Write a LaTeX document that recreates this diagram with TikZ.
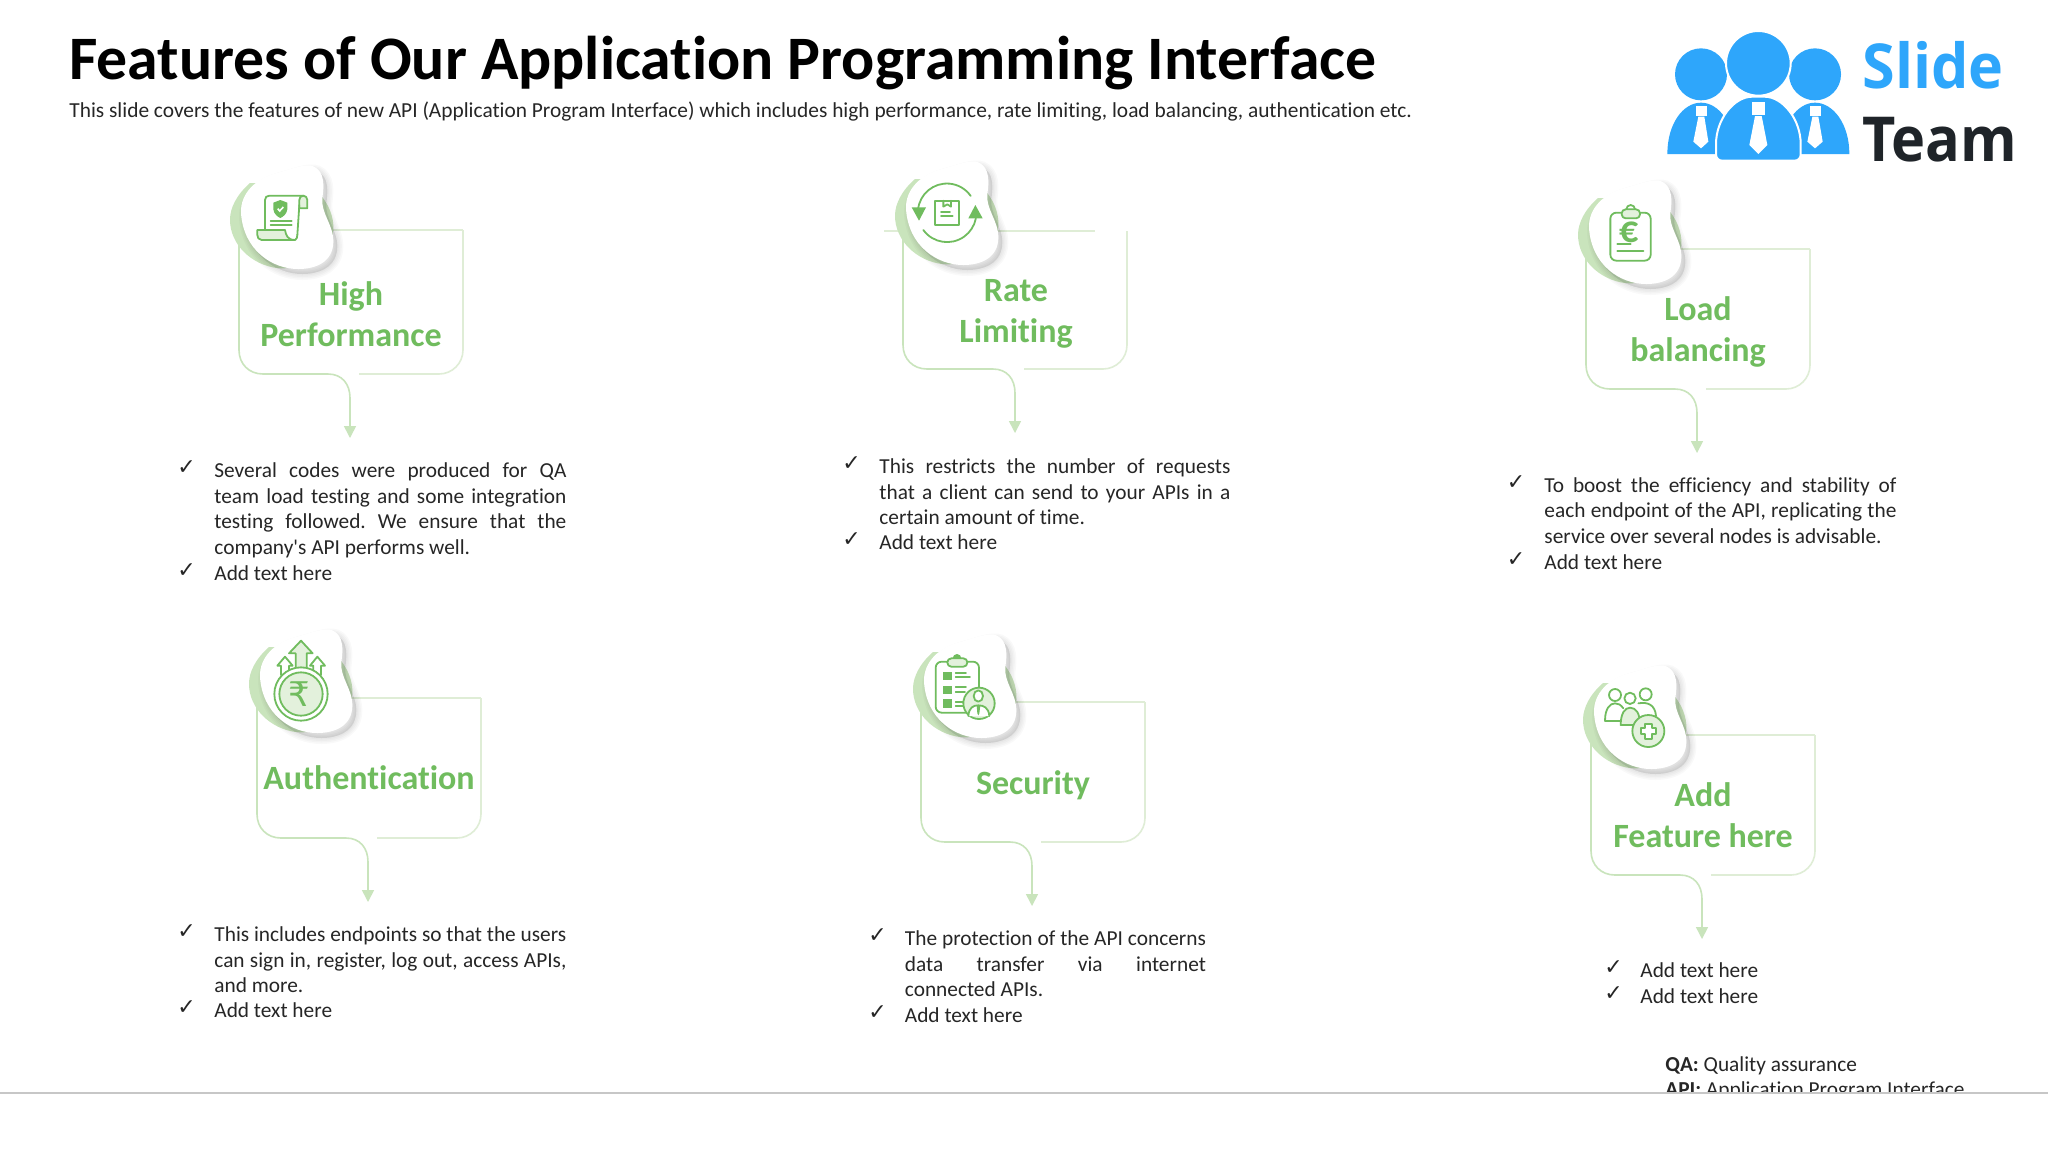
\documentclass[tikz,border=0pt]{standalone}
\usepackage{fontspec}
\setmainfont{Carlito}[Ligatures=NoCommon]
\newfontfamily\dejavu{DejaVu Sans}
\newfontfamily\logofont{Open Sans}
\newfontfamily\aposfont{Carlito}
\usetikzlibrary{arrows.meta}
\definecolor{gr}{HTML}{70BC5E}
\definecolor{grl}{HTML}{C9E4BC}
\definecolor{grf}{HTML}{E3F1DC}
\definecolor{grfade}{HTML}{DFEDD6}
\definecolor{bodytxt}{HTML}{262626}
\definecolor{logob}{HTML}{2EA6FB}
\definecolor{logod}{HTML}{1F2429}
\tikzset{
  zs/.style 2 args={shift={(#1,#2)},x=0.16667pt,y=-0.16667pt},
  ic/.style={draw=gr,line width=0.9pt,line join=round,line cap=round},
  icf/.style={ic,fill=grf},
  icw/.style={ic,fill=white},
  icg/.style={fill=gr,draw=none},
  edgeA/.style={draw=grl,line width=0.8pt},
  edgeB/.style={draw=grfade,line width=0.8pt},
  cardtitle/.style={text=gr,font=\fontsize{17}{20.5}\selectfont\bfseries,align=center,inner sep=0pt},
  bodyitem/.style={anchor=north west,inner sep=0pt,text=bodytxt,align=justify,font=\fontsize{10.67}{12.8}\selectfont\frenchspacing},
  tickmark/.style={anchor=north west,inner sep=0pt,text=bodytxt,font=\fontsize{11}{12.8}\selectfont\dejavu},
}
\def\blobpath{(340,50) .. controls (375,65) and (372,110) .. (367,145)
  .. controls (362,190) and (400,225) .. (400,275)
  .. controls (400,335) and (350,358) .. (295,358)
  .. controls (215,358) and (130,300) .. (123,190)
  .. controls (120,130) and (170,85) .. (230,70)
  .. controls (270,60) and (315,40) .. (340,50) -- cycle}
\def\backpath{(150,100) .. controls (110,135) and (90,175) .. (90,210)
  .. controls (90,285) and (155,345) .. (230,355)
  .. controls (290,362) and (395,330) .. (400,240)
  .. controls (402,200) and (385,165) .. (365,140)
  -- (250,100) -- cycle}
% name, left, top, bottom, arrow x, top line start, top line end
\newcommand{\featcard}[7]{
  \coordinate (#1-tl) at (#2,#3);
  \coordinate (#1-tr) at (#2+224,#3);
  \coordinate (#1-bl) at (#2,#4);
  \coordinate (#1-br) at (#2+224,#4);
  \coordinate (#1-tip) at (#5,#4+64);
  \coordinate (#1-gap) at (#5+9,#4);
  \draw[edgeB] (#6,#3) -- (#7,#3);
  \draw[edgeB,rounded corners=12pt] (#1-gap) -- (#1-br) -- (#1-tr);
  \draw[edgeA,-{Triangle[length=6pt,width=6pt]}] (#1-tl) -- (#2,#4-24)
     .. controls (#2,#4-10) and (#2+10,#4) .. (#2+24,#4) -- (#5-22,#4)
     .. controls (#5-8,#4) and (#5,#4+10) .. (#5,#4+24) -- (#1-tip);
}
\newcommand{\blobat}[2]{
  \begin{scope}[zs={#1-30}{#2-118.33}]
    \fill[grl] \backpath;
   \begin{scope}[xshift=2pt,yshift=-2.5pt]
    \foreach \w in {6,4.5,3,1.5}{\draw[black,opacity=.025,line width=\w pt,fill=black] \blobpath;}
   \end{scope}
   \fill[white] \blobpath;
  \end{scope}
}
\newcommand{\litem}[6]{
  \node[tickmark] (#1-t) at (#2-2,#4-13.5) {\strut\symbol{"2713}};
  \node[bodyitem,text width=#5*0.5pt] (#1) at (#3,#4-10.8) {\strut #6};
}
\begin{document}
\begin{tikzpicture}[x=0.5pt,y=-0.5pt]
\useasboundingbox (0,0) rectangle (2048,1152);
\fill[white] (0,0) rectangle (2048,1152);

\node[anchor=west,inner sep=0pt,font=\fontsize{30.9}{34}\selectfont\bfseries] (title) at (69,63) {Features of Our Application Programming Interface};
\node[anchor=west,inner sep=0pt,text=bodytxt,font=\fontsize{10.69}{12.8}\selectfont\frenchspacing] (sub) at (69,112) {This slide covers the features of new API (Application Program Interface) which includes high performance, rate limiting, load balancing, authentication etc.};

% logo
\begin{scope}[zs={1640}{10}]
 \fill[logob] (183,193) circle[radius=78];
 \fill[logob] (525,193) circle[radius=78];
 \fill[logob] (82,432) .. controls (82,340) and (130,278) .. (183,278) .. controls (236,278) and (284,340) .. (284,432) -- cycle;
 \fill[logob] (424,432) .. controls (424,340) and (472,278) .. (525,278) .. controls (578,278) and (628,340) .. (628,432) -- cycle;
 \fill[logob,draw=white,line width=1pt] (355,160) circle[radius=97];
 \fill[logob,draw=white,line width=1pt,rounded corners=3pt] (228,452) -- (228,420) .. controls (228,330) and (280,260) .. (355,260) .. controls (430,260) and (482,330) .. (482,420) -- (482,452) -- cycle;
 \fill[white] (335,275) rectangle (375,315);
 \fill[white] (345,318) -- (365,318) -- (382,405) -- (355,432) -- (328,405) -- cycle;
 \fill[white] (168,288) rectangle (200,318);
 \fill[white] (175,320) -- (193,320) -- (205,395) -- (183,415) -- (160,395) -- cycle;
 \fill[white] (510,288) rectangle (542,318);
 \fill[white] (517,320) -- (535,320) -- (548,395) -- (525,415) -- (502,395) -- cycle;
\end{scope}
\node[anchor=base west,inner sep=0pt,text=logob,font=\fontsize{31}{34}\selectfont\logofont\bfseries] (slide) at (1862,88) {\scalebox{.955}[1]{Slide}};
\node[anchor=base west,inner sep=0pt,text=logod,font=\fontsize{31}{34}\selectfont\logofont\bfseries] (team) at (1862,161) {\scalebox{.93}[1]{Team}};

% cards
\featcard{a}{239}{230}{374}{350}{239}{463}
\featcard{b}{903}{231}{369}{1015}{884}{1095}
\featcard{c}{1586}{249}{389}{1697}{1586}{1810}
\featcard{d}{257}{698}{838}{368}{257}{481}
\featcard{e}{921}{702}{842}{1032}{921}{1145}
\featcard{f}{1591}{735}{875}{1702}{1591}{1815}

\blobat{230}{268}
\blobat{895}{264}
\blobat{1578}{283}
\blobat{249}{732}
\blobat{913}{737}
\blobat{1583}{768}

\node[cardtitle] (ta) at (351,318) {\strut High\\\strut Performance};
\node[cardtitle] (tb) at (1016,313.5) {\strut Rate\\\strut Limiting};
\node[cardtitle] (tc) at (1698,333) {\strut Load\\\strut balancing};
\node[cardtitle] (td) at (369,781) {\strut Authentication};
\node[cardtitle] (te) at (1033,786) {\strut Security};
\node[cardtitle] (tf) at (1703,818.5) {\strut Add\\\strut Feature here};

% icon 1: scroll
\begin{scope}[zs={200}{150}]
 \draw[icf] (298,175) -- (322,175) -- (322,150) .. controls (322,142) and (316,137) .. (310,137) .. controls (302,137) and (298,143) .. (298,150) -- cycle;
 \draw[ic] (310,137) -- (208,137) .. controls (200,137) and (195,142) .. (195,150) -- (195,238);
 \draw[ic] (298,165) -- (292,255);
 \draw[icf] (172,240) -- (255,240) .. controls (258,255) and (262,270) .. (285,270) -- (185,270) .. controls (176,270) and (172,262) .. (172,255) -- cycle;
 \draw[ic] (285,270) .. controls (290,268) and (292,262) .. (292,255);
 \fill[gr] (241,150) -- (262,158) -- (262,178) .. controls (260,192) and (250,200) .. (241,204) .. controls (232,200) and (222,192) .. (220,178) -- (220,158) -- cycle;
 \draw[white,line width=0.8pt] (233,176) -- (239,183) -- (250,171);
 \draw[ic] (212,212) -- (275,212);
 \draw[ic] (212,225) -- (275,225);
\end{scope}

% icon 2: rate
\begin{scope}[zs={870}{150}]
 \draw[ic] (144,180) arc[start angle=-175,end angle=-35,radius=87];
 \draw[ic] (160,240) arc[start angle=144,end angle=11,radius=88];
 \fill[gr] (125,172) -- (168,172) -- (147,212) -- cycle;
 \fill[gr] (295,205) -- (338,205) -- (316,165) -- cycle;
 \draw[ic] (195,152) rectangle (268,225);
 \draw[ic] (220,152) -- (220,170) -- (232,163) -- (243,170) -- (243,152);
 \draw[ic] (213,185) -- (240,185);
 \draw[ic] (213,198) -- (248,198);
\end{scope}

% icon 3: clipboard
\begin{scope}[zs={1560}{170}]
 \draw[ic,rounded corners=3pt] (151,128) rectangle (272,272);
 \draw[icw] (199,118) arc[start angle=-180,end angle=0,radius=13];
 \draw[icf,rounded corners=2pt] (185,118) rectangle (240,145);
 \node[inner sep=0pt,text=gr,font=\fontsize{19}{20}\selectfont\bfseries] (euro) at (207,186) {€};
 \draw[ic] (172,222) -- (212,222);
 \draw[ic] (172,242) -- (250,242);
\end{scope}

% icon 4: coin and arrows
\begin{scope}[zs={230}{620}]
 \draw[icf] (213,62) -- (248,100) -- (230,100) -- (230,150) -- (197,150) -- (197,100) -- (177,100) -- cycle;
 \draw[icw] (165,110) -- (188,137) -- (177,137) -- (177,165) -- (153,165) -- (153,137) -- (142,137) -- cycle;
 \draw[icw] (262,110) -- (285,137) -- (273,137) -- (273,165) -- (250,165) -- (250,137) -- (240,137) -- cycle;
 \draw[icw] (213,222) circle[radius=80];
 \draw[icf] (213,222) circle[radius=65];
 \node[inner sep=0pt,text=gr,font=\fontsize{17}{20}\selectfont\dejavu] (rupee) at (208,222) {₹};
\end{scope}

% icon 5: checklist and person
\begin{scope}[zs={890}{630}]
 \draw[ic,rounded corners=3pt] (137,95) rectangle (267,248);
 \fill[gr] (188,85) arc[start angle=-180,end angle=0,radius=13];
 \draw[icf,rounded corners=2pt] (172,85) rectangle (232,110);
 \fill[gr] (160,125) rectangle (186,150);
 \fill[gr] (160,167) rectangle (186,192);
 \fill[gr] (160,208) rectangle (186,233);
 \draw[ic] (197,128) -- (228,128);
 \draw[ic] (197,142) -- (240,142);
 \draw[ic] (197,172) -- (228,172);
 \draw[ic] (197,186) -- (225,186);
 \draw[ic] (197,215) -- (220,215);
 \draw[ic] (197,229) -- (220,229);
 \draw[icf] (267,220) circle[radius=47];
 \draw[icw] (265,198) ellipse[x radius=14,y radius=17];
 \draw[icw] (235,258) .. controls (237,232) and (250,226) .. (265,226) .. controls (280,226) and (296,232) .. (298,258);
 \fill[gr] (260,226) -- (271,226) -- (268,250) -- (265,256) -- (262,250) -- cycle;
\end{scope}

% icon 6: people and plus
\begin{scope}[zs={1560}{660}]
 \draw[ic] (165,105) circle[radius=18];
 \draw[ic] (257,103) circle[radius=18];
 \draw[ic] (135,182) .. controls (135,145) and (150,130) .. (165,130) .. controls (175,130) and (182,134) .. (190,145);
 \draw[ic] (135,182) -- (185,182);
 \draw[ic] (235,130) .. controls (265,125) and (285,135) .. (288,168);
 \draw[icf] (182,195) .. controls (182,160) and (195,143) .. (210,143) .. controls (228,143) and (240,160) .. (240,195) -- cycle;
 \draw[icw] (210,115) circle[radius=17];
 \draw[icf] (265,213) circle[radius=48];
 \draw[ic,fill=white] (255,193) -- (275,193) -- (275,203) -- (287,203) -- (287,223) -- (275,223) -- (275,236) -- (255,236) -- (255,223) -- (243,223) -- (243,203) -- (255,203) -- cycle;
\end{scope}

% lists
\litem{la1}{179}{214}{470}{352}{Several codes were produced for QA\linebreak team load testing and some integration\linebreak testing followed. We ensure that the\linebreak company{\aposfont\symbol{39}}s API performs well.}
\litem{la2}{179}{214}{572.5}{352}{Add text here}
\litem{lb1}{844}{879}{466}{351}{This restricts the number of requests\linebreak that a client can send to your APIs in a\linebreak certain amount of time.}
\litem{lb2}{844}{879}{542}{351}{Add text here}
\litem{lc1}{1508.5}{1544}{484.5}{352}{To boost the efficiency and stability of\linebreak each endpoint of the API, replicating the\linebreak service over several nodes is advisable.}
\litem{lc2}{1508.5}{1544}{561.5}{352}{Add text here}
\litem{ld1}{179}{214}{934}{352}{This includes endpoints so that the users\linebreak can sign in, register, log out, access APIs,\linebreak and more.}
\litem{ld2}{179}{214}{1010}{352}{Add text here}
\litem{le1}{870}{904.5}{938}{301}{The protection of the API concerns\linebreak data transfer via internet\linebreak connected APIs.}
\litem{le2}{870}{904.5}{1015}{301}{Add text here}
\litem{lf1}{1606}{1640}{970}{300}{Add text here}
\litem{lf2}{1606}{1640}{996}{300}{Add text here}

% footnote, cut off by the white strip under the rule
\node[anchor=north west,inner sep=0pt,text=bodytxt,align=left,font=\fontsize{10.66}{12.8}\selectfont\frenchspacing] (foot) at (1665,1053) {\strut\textbf{QA:} Quality assurance\\\strut\textbf{API:} Application Program Interface};
\fill[white] (0,1093) rectangle (2048,1152);
\coordinate (ruleL) at (0,1093);
\coordinate (ruleR) at (2048,1093);
\draw[draw=black!22,line width=0.6pt] (ruleL) -- (ruleR);
\end{tikzpicture}
\end{document}
